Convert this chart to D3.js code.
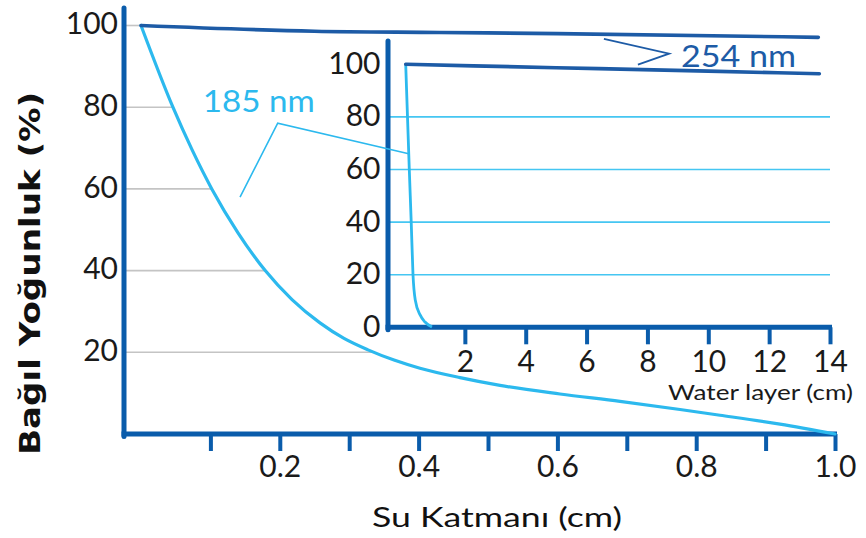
<!DOCTYPE html>
<html><head><meta charset="utf-8">
<script src="https://cdn.jsdelivr.net/npm/d3@7"></script>
<style>body{margin:0;background:#fff} svg{display:block}</style>
</head><body>
<svg id="c" width="866" height="538"></svg>
<script>
// ---------- data ----------
const mainDepth185 = [0, 0.046, 0.0735, 0.102, 0.140, 0.179, 0.2176, 0.2579, 0.2925, 0.3271, 0.3646, 0.402, 0.4597, 0.5173, 0.6037, 0.6902, 0.7767, 0.8343, 0.9207, 1.0];
const mainInt185   = [100, 80, 69.6, 60, 49.2, 40, 32.9, 27.2, 23.4, 20.6, 18.1, 16.1, 13.8, 11.9, 9.8, 8.0, 6.0, 4.6, 2.4, 0];
const mainDepth254 = [0, 0.25, 0.43, 0.6, 0.976];
const mainInt254   = [100, 98.6, 98.3, 98.0, 97.1];
const insetDepth185 = [0.056, 0.115, 0.174, 0.237, 0.296, 0.37, 0.53, 0.69, 0.92];
const insetInt185   = [100, 80, 60, 40, 20, 10.4, 4.7, 2.0, 0.1];
const insetDepth254 = [0.056, 5, 10, 13.65];
const insetInt254   = [100, 98.7, 97.4, 96.4];
const mainXTicks = [0.1, 0.2, 0.3, 0.4, 0.5, 0.6, 0.7, 0.8, 0.9, 1.0];
const mainXLabelled = [0.2, 0.4, 0.6, 0.8, 1.0];
const mainYTicks = [20, 40, 60, 80, 100];
const insetXTicks = [2, 4, 6, 8, 10, 12, 14];
const insetYTicks = [0, 20, 40, 60, 80, 100];
const insetGrid = [20, 40, 60, 80];
const label185 = "185 nm", label254 = "254 nm";
const xTitle = "Su Katmanı (cm)", yTitle = "Bağıl Yoğunluk (%)", insetXTitle = "Water layer (cm)";

// ---------- style ----------
const AXIS = "#0a5cab", DARK = "#1d5ba6", LIGHT = "#2cb9ee", GRID = "#c4c4c4", INGRID = "#45c6f2";
const FONT = "Lato, 'Open Sans', sans-serif";

const svg = d3.select("#c");
const x = d3.scaleLinear([0, 1], [141, 835]);
const y = d3.scaleLinear([0, 100], [434, 25.5]);
const ix = d3.scaleLinear([0, 14], [404, 830]);
const iy = d3.scaleLinear([0, 100], [327.3, 64.3]);

function fit(t, w) { t.attr("textLength", w).attr("lengthAdjust", "spacingAndGlyphs"); return t; }
function crossX(xs, vs, v) {
  for (let i = 0; i < vs.length - 1; i++) {
    if (vs[i] >= v && vs[i + 1] <= v) {
      const f = vs[i] === vs[i + 1] ? 0 : (vs[i] - v) / (vs[i] - vs[i + 1]);
      return xs[i] + f * (xs[i + 1] - xs[i]);
    }
  }
  return xs[0];
}

// main grid lines end at the 185 nm curve
svg.append("g").selectAll("line").data(mainYTicks).join("line")
  .attr("x1", x.range()[0] - 15).attr("x2", d => x(crossX(mainDepth185, mainInt185, d)))
  .attr("y1", d => y(d)).attr("y2", d => y(d))
  .attr("stroke", GRID).attr("stroke-width", 1.6);

// main axes
const gx = svg.append("g").attr("transform", `translate(0,${y(0)})`)
  .call(d3.axisBottom(x).tickValues(mainXTicks).tickSize(17).tickPadding(5)
    .tickFormat(d => mainXLabelled.some(v => Math.abs(v - d) < 1e-9) ? d3.format(".1f")(d) : ""));
gx.select(".domain").remove();
gx.selectAll(".tick line").attr("stroke", AXIS).attr("stroke-width", 4);
gx.selectAll(".tick text").attr("font-family", FONT).attr("font-size", 30).attr("fill", "#1a1a1a");

const gy = svg.append("g").attr("transform", `translate(124,0)`)
  .call(d3.axisLeft(y).tickValues(mainYTicks).tickSize(0).tickPadding(6));
gy.select(".domain").remove();
gy.selectAll(".tick text").attr("font-family", FONT).attr("font-size", 30).attr("fill", "#1a1a1a").attr("dy", "0.27em");

svg.append("line").attr("x1", 124).attr("x2", 124).attr("y1", 8).attr("y2", y(0) + 2.5)
  .attr("stroke", AXIS).attr("stroke-width", 5).attr("stroke-linecap", "round");
svg.append("line").attr("x1", 121.5).attr("x2", x(1) + 2).attr("y1", y(0)).attr("y2", y(0))
  .attr("stroke", AXIS).attr("stroke-width", 5);

// main lines
const mline = d3.line().x(d => x(d[0])).y(d => y(d[1])).curve(d3.curveMonotoneX);
svg.append("path").attr("d", mline(d3.zip(mainDepth185, mainInt185)))
  .attr("fill", "none").attr("stroke", LIGHT).attr("stroke-width", 3.2).attr("stroke-linecap", "round");
svg.append("path").attr("d", mline(d3.zip(mainDepth254, mainInt254)))
  .attr("fill", "none").attr("stroke", DARK).attr("stroke-width", 3.6).attr("stroke-linecap", "round");

// ---------- inset ----------
svg.append("g").selectAll("line").data(insetGrid).join("line")
  .attr("x1", 390).attr("x2", ix(14)).attr("y1", d => iy(d)).attr("y2", d => iy(d))
  .attr("stroke", INGRID).attr("stroke-width", 1.6);

const igx = svg.append("g").attr("transform", `translate(0,${iy(0)})`)
  .call(d3.axisBottom(ix).tickValues(insetXTicks).tickSize(17).tickPadding(6));
igx.select(".domain").remove();
igx.selectAll(".tick line").attr("stroke", AXIS).attr("stroke-width", 4);
igx.selectAll(".tick text").attr("font-family", FONT).attr("font-size", 30).attr("fill", "#1a1a1a");

const igy = svg.append("g").attr("transform", `translate(388,0)`)
  .call(d3.axisLeft(iy).tickValues(insetYTicks).tickSize(0).tickPadding(7.5));
igy.select(".domain").remove();
igy.selectAll(".tick text").attr("font-family", FONT).attr("font-size", 30).attr("fill", "#1a1a1a").attr("dy", "0.3em");

svg.append("line").attr("x1", 388).attr("x2", 388).attr("y1", 41).attr("y2", iy(0) + 2.5)
  .attr("stroke", AXIS).attr("stroke-width", 5).attr("stroke-linecap", "round");
svg.append("line").attr("x1", 385.5).attr("x2", ix(14) + 2).attr("y1", iy(0)).attr("y2", iy(0))
  .attr("stroke", AXIS).attr("stroke-width", 5);

const iline = d3.line().x(d => ix(d[0])).y(d => iy(d[1])).curve(d3.curveMonotoneX);
svg.append("path").attr("d", iline(d3.zip(insetDepth185, insetInt185)))
  .attr("fill", "none").attr("stroke", LIGHT).attr("stroke-width", 2.8);
svg.append("path").attr("d", iline(d3.zip(insetDepth254, insetInt254)))
  .attr("fill", "none").attr("stroke", DARK).attr("stroke-width", 3.6).attr("stroke-linecap", "round").attr("stroke-linejoin", "round");

// ---------- annotations ----------
const lead185 = [[x(0.1427), y(58.0)], [x(0.197), y(76.1)], [ix(0.155), iy(66)]];
svg.append("path").attr("d", d3.line()(lead185)).attr("fill", "none").attr("stroke", LIGHT).attr("stroke-width", 1.6);
fit(svg.append("text").attr("x", x(0.089)).attr("y", y(78.8)).text(label185)
  .attr("font-family", FONT).attr("font-size", 30).attr("fill", LIGHT), 112);

const lead254 = [[x(0.667), y(96.7)], [x(0.761), y(93.1)], [x(0.716), y(90.4)]];
svg.append("path").attr("d", d3.line()(lead254)).attr("fill", "none").attr("stroke", DARK).attr("stroke-width", 1.8);
fit(svg.append("text").attr("x", x(0.778)).attr("y", y(89.8)).text(label254)
  .attr("font-family", FONT).attr("font-size", 30).attr("fill", DARK), 115);

// titles
fit(svg.append("text").attr("x", 853).attr("y", 400).attr("text-anchor", "end").text(insetXTitle)
  .attr("font-family", FONT).attr("font-size", 22).attr("fill", "#1a1a1a"), 185);
fit(svg.append("text").attr("x", 497).attr("y", 527).attr("text-anchor", "middle").text(xTitle)
  .attr("font-family", FONT).attr("font-size", 26).attr("fill", "#111"), 250);
fit(svg.append("text").attr("transform", "translate(40,273.5) rotate(-90)").attr("text-anchor", "middle").text(yTitle)
  .attr("font-family", "'DejaVu Sans', Verdana, sans-serif").attr("font-size", 29).attr("font-weight", "bold").attr("fill", "#111"), 363);
</script>
</body></html>
